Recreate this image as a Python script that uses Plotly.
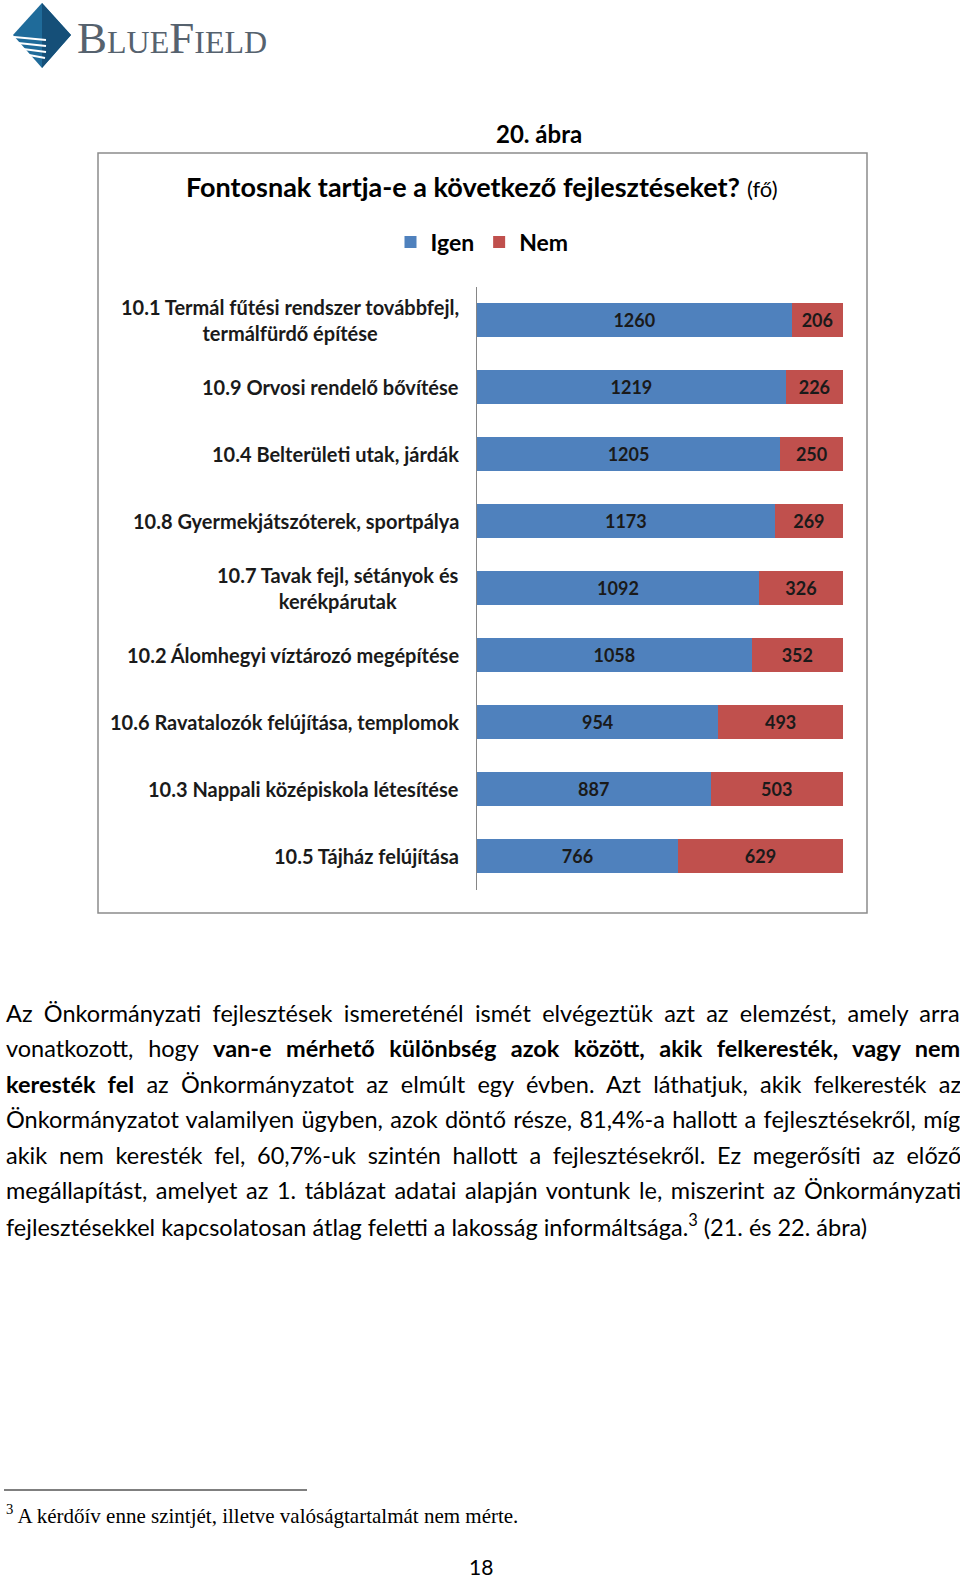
import plotly.graph_objects as go

W, H = 960, 1580

categories = [
    "10.1 Termál fűtési rendszer továbbfejl,<br>termálfürdő építése",
    "10.9 Orvosi rendelő bővítése",
    "10.4 Belterületi utak, járdák",
    "10.8 Gyermekjátszóterek, sportpálya",
    "10.7 Tavak fejl, sétányok és<br>kerékpárutak",
    "10.2 Álomhegyi víztározó megépítése",
    "10.6 Ravatalozók felújítása, templomok",
    "10.3 Nappali középiskola létesítése",
    "10.5 Tájház felújítása",
]
igen = [1260, 1219, 1205, 1173, 1092, 1058, 954, 887, 766]
nem = [206, 226, 250, 269, 326, 352, 493, 503, 629]
series_names = ["Igen", "Nem"]

figure_label = "20. ábra"
chart_title = "Fontosnak tartja-e a következő fejlesztéseket?"
chart_unit = "(fő)"

# each line: list of (text, bold) segments
paragraph_lines = [
    [("Az Önkormányzati fejlesztések ismereténél ismét elvégeztük azt az elemzést, amely arra", False)],
    [("vonatkozott, hogy ", False), ("van-e mérhető különbség azok között, akik felkeresték, vagy nem", True)],
    [("keresték fel", True), (" az Önkormányzatot az elmúlt egy évben. Azt láthatjuk, akik felkeresték az", False)],
    [("Önkormányzatot valamilyen ügyben, azok döntő része, 81,4%-a hallott a fejlesztésekről, míg", False)],
    [("akik nem keresték fel, 60,7%-uk szintén hallott a fejlesztésekről. Ez megerősíti az előző", False)],
    [("megállapítást, amelyet az 1. táblázat adatai alapján vontunk le, miszerint az Önkormányzati", False)],
    [("fejlesztésekkel kapcsolatosan átlag feletti a lakosság informáltsága.", False), ("<sup>3</sup>", False),
     (" (21. és 22. ábra)", False)],
]
# extra word spacing (px) used to justify each line
word_spacing = [5.3, 8.7, 6.3, 1.3, 5.7, 2.6, 0.0]

footnote = "<sup>3</sup> A kérdőív enne szintjét, illetve valóságtartalmát nem mérte."
page_number = "18"

BLUE = "#4F81BD"
RED = "#C0504D"
FONT = "Lato"


def px(x):
    return x / W


def py(y):
    return 1 - y / H


fig = go.Figure()
for vals, name, color in [(igen, series_names[0], BLUE), (nem, series_names[1], RED)]:
    fig.add_trace(go.Bar(
        y=categories, x=vals, orientation="h", name=name,
        marker=dict(color=color, line=dict(width=0)),
        text=vals, texttemplate="%{text}", textposition="inside",
        insidetextanchor="middle", constraintext="none",
        textfont=dict(family=FONT, size=18, color="#1a1a1a", weight="bold"),
    ))

annotations = []
annotations.append(dict(x=px(539), y=py(133), xref="paper", yref="paper",
                        text="<b>" + figure_label + "</b>", showarrow=False,
                        font=dict(family=FONT, size=24, color="#000000"),
                        xanchor="center", yanchor="middle"))
annotations.append(dict(x=px(482), y=py(187), xref="paper", yref="paper",
                        text="<b>" + chart_title + "</b> <span style='font-size:22px'>" + chart_unit + "</span>",
                        showarrow=False,
                        font=dict(family=FONT, size=27, color="#000000"),
                        xanchor="center", yanchor="middle"))
for c in categories:
    annotations.append(dict(x=px(461), y=c, xref="paper", yref="y",
                            text="<b>" + c + "</b>", showarrow=False, align="center",
                            font=dict(family=FONT, size=20, color="#1a1a1a"),
                            xanchor="right", yanchor="middle"))

y0 = 1013
for i, segs in enumerate(paragraph_lines):
    parts = []
    for t, bold in segs:
        if t.startswith("<sup>"):
            parts.append(t)
            continue
        style = f"word-spacing:{word_spacing[i]}px"
        if bold:
            style += ";font-weight:bold"
        parts.append(f"<span style='{style}'>{t}</span>")
    annotations.append(dict(x=px(4), y=py(y0 + i * 35.45), xref="paper", yref="paper",
                            text="".join(parts), showarrow=False, align="left",
                            font=dict(family=FONT, size=23.5, color="#000000"),
                            xanchor="left", yanchor="middle"))

annotations.append(dict(x=px(4), y=py(1514), xref="paper", yref="paper",
                        text=footnote, showarrow=False, align="left",
                        font=dict(family="Liberation Serif", size=21, color="#000000"),
                        xanchor="left", yanchor="middle"))
annotations.append(dict(x=px(481), y=py(1566), xref="paper", yref="paper",
                        text=page_number, showarrow=False,
                        font=dict(family=FONT, size=21, color="#000000"),
                        xanchor="center", yanchor="middle"))
annotations.append(dict(x=px(75), y=py(38), xref="paper", yref="paper",
                        text="B<span style='font-size:32px'>LUE</span>F<span style='font-size:32px'>IELD</span>",
                        showarrow=False,
                        font=dict(family="Liberation Serif", size=45, color="#56626e"),
                        xanchor="left", yanchor="middle"))


def path(points):
    return "M " + " L ".join(f"{px(a):.5f},{py(b):.5f}" for a, b in points) + " Z"


shapes = [
    dict(type="rect", xref="paper", yref="paper", x0=px(98), x1=px(867), y0=py(913), y1=py(153),
         line=dict(color="#8c8c8c", width=1.5), fillcolor="rgba(0,0,0,0)", layer="below"),
    dict(type="line", xref="paper", yref="paper", x0=px(4), x1=px(307), y0=py(1490), y1=py(1490),
         line=dict(color="#000000", width=1.2)),
    dict(type="path", xref="paper", yref="paper", path=path([(42, 3), (71, 35), (42, 68), (13, 35)]),
         fillcolor="#1f6b9a", line=dict(width=0)),
    dict(type="path", xref="paper", yref="paper", path=path([(42, 3), (71, 35), (42, 68)]),
         fillcolor="#154f78", line=dict(width=0)),
]
for (a, b, c, d) in [(14, 37, 46, 40), (18, 43, 46, 46), (23, 49, 46, 52), (29, 55, 45, 58)]:
    shapes.append(dict(type="line", xref="paper", yref="paper", x0=px(a), y0=py(b), x1=px(c), y1=py(d),
                       line=dict(color="#ffffff", width=2)))

fig.update_layout(
    width=W, height=H,
    margin=dict(l=0, r=0, t=0, b=0),
    paper_bgcolor="#ffffff", plot_bgcolor="#ffffff",
    barmode="stack", barnorm="fraction", bargap=0.49,
    showlegend=True,
    legend=dict(orientation="h", x=px(482), xanchor="center", y=py(242), yanchor="middle",
                font=dict(family=FONT, size=23, color="#000000", weight="bold"),
                traceorder="normal", bgcolor="rgba(0,0,0,0)", itemwidth=30),
    xaxis=dict(domain=[px(477), px(843)], range=[0, 1], visible=False, fixedrange=True),
    yaxis=dict(domain=[py(889.5), py(286.5)], autorange="reversed", showline=True,
               linecolor="#868686", linewidth=1, showticklabels=False, ticks="",
               showgrid=False, zeroline=False),
    annotations=annotations,
    shapes=shapes,
)

fig.write_html("out.html", config={"displayModeBar": False},
               post_script="document.body.style.margin='0px';document.body.style.overflow='hidden';")
